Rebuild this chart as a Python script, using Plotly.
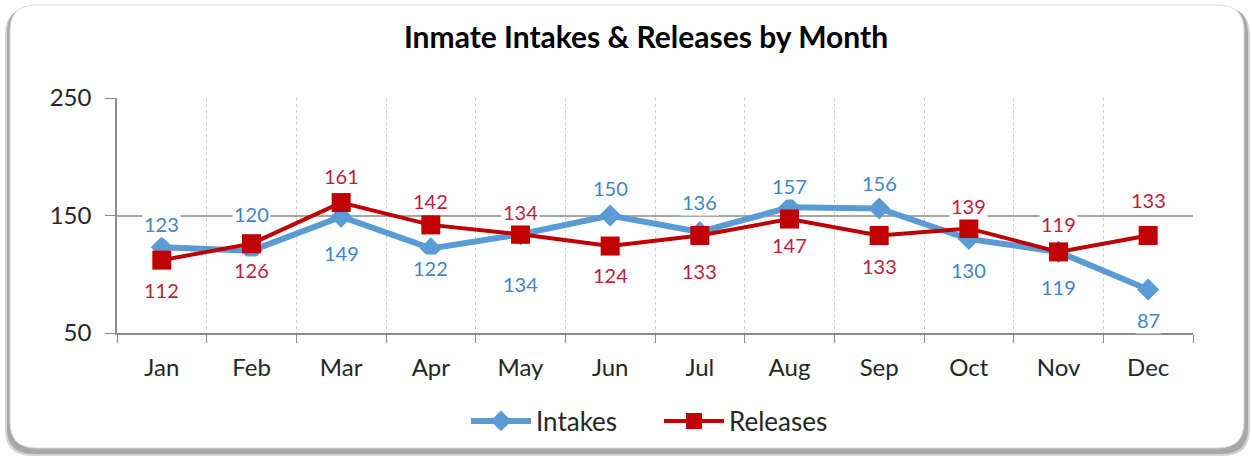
import plotly.graph_objects as go

months = ["Jan", "Feb", "Mar", "Apr", "May", "Jun", "Jul", "Aug", "Sep", "Oct", "Nov", "Dec"]
intakes = [123, 120, 149, 122, 134, 150, 136, 157, 156, 130, 119, 87]
releases = [112, 126, 161, 142, 134, 124, 133, 147, 133, 139, 119, 133]

# vertical label offsets in pixels (negative = above the marker)
intake_label_dy = [-23, -37, 36, 20, 50, -28, -30, -21, -25, 31, 35, 30]
release_label_dy = [30, 26, -27, -24, -22, 29, 36, 26, 31, -22, -28, -35]

BLUE = "#5B9BD5"
RED = "#C00000"
BLUE_TXT = "#3F86C8"
RED_TXT = "#BE1E3C"
FONT = "Lato, Open Sans, sans-serif"

W, H = 1252, 457
L, R, T, B = 117, 59, 98, 124
PW, PH = W - L - R, H - T - B


def px(x):
    return (x - L) / PW


def py(y):
    return (H - B - y) / PH


def rounded(x0, y0, x1, y1, r):
    # rounded rectangle in pixel coordinates, returned as a paper-space path
    pts = [
        f"M {px(x0 + r)},{py(y0)}",
        f"L {px(x1 - r)},{py(y0)}",
        f"Q {px(x1)},{py(y0)} {px(x1)},{py(y0 + r)}",
        f"L {px(x1)},{py(y1 - r)}",
        f"Q {px(x1)},{py(y1)} {px(x1 - r)},{py(y1)}",
        f"L {px(x0 + r)},{py(y1)}",
        f"Q {px(x0)},{py(y1)} {px(x0)},{py(y1 - r)}",
        f"L {px(x0)},{py(y0 + r)}",
        f"Q {px(x0)},{py(y0)} {px(x0 + r)},{py(y0)}",
        "Z",
    ]
    return " ".join(pts)


fig = go.Figure()

fig.add_trace(go.Scatter(
    x=months, y=intakes, name="Intakes", mode="lines+markers",
    line=dict(color=BLUE, width=6),
    marker=dict(symbol="diamond", size=17, color=BLUE),
))
fig.add_trace(go.Scatter(
    x=months, y=releases, name="Releases", mode="lines+markers",
    line=dict(color=RED, width=4),
    marker=dict(symbol="square", size=19, color=RED),
))

annotations = []
for m, v, dy in zip(months, intakes, intake_label_dy):
    annotations.append(dict(
        x=m, y=v, xref="x", yref="y", text=str(v), showarrow=False,
        yshift=-dy, font=dict(family=FONT, size=20, color=BLUE_TXT),
        bgcolor="white", borderpad=1,
    ))
for m, v, dy in zip(months, releases, release_label_dy):
    annotations.append(dict(
        x=m, y=v, xref="x", yref="y", text=str(v), showarrow=False,
        yshift=-dy, font=dict(family=FONT, size=20, color=RED_TXT),
        bgcolor="white", borderpad=1,
    ))

shapes = [
    # frame shadow, two soft layers
    dict(type="path", xref="paper", yref="paper", layer="below",
         path=rounded(5, 8, 1250, 456, 27), fillcolor="#d4d4d4",
         line=dict(width=0)),
    dict(type="path", xref="paper", yref="paper", layer="below",
         path=rounded(7, 7, 1248, 454, 26), fillcolor="#a8a8a8",
         line=dict(width=0)),
    # frame
    dict(type="path", xref="paper", yref="paper", layer="below",
         path=rounded(10, 5, 1244, 448, 26), fillcolor="white",
         line=dict(color="#dcdcdc", width=1)),
]

fig.update_layout(
    width=W, height=H,
    margin=dict(l=L, r=R, t=T, b=B),
    paper_bgcolor="white", plot_bgcolor="rgba(0,0,0,0)",
    font=dict(family=FONT, color="#262626"),
    title=dict(text="<b>Inmate Intakes &amp; Releases by Month</b>",
               x=646 / W, xanchor="center", xref="container",
               y=1 - 37 / H, yanchor="middle",
               font=dict(family=FONT, size=30, color="#000000")),
    showlegend=True,
    legend=dict(orientation="h", x=px(466), xanchor="left",
                y=py(421), yanchor="middle",
                font=dict(family=FONT, size=26, color="#262626"),
                itemwidth=60, entrywidth=118, entrywidthmode="pixels",
                bgcolor="rgba(0,0,0,0)"),
    shapes=shapes,
    annotations=annotations,
)

fig.update_xaxes(
    type="category", range=[-0.5, 11.5], tickson="boundaries",
    ticks="outside", ticklen=8, tickcolor="#8c8c8c", ticklabelstandoff=12,
    showline=True, linecolor="#8c8c8c", linewidth=1.5,
    showgrid=True, gridcolor="#d0d0d0", griddash="dot", gridwidth=1,
    tickfont=dict(family=FONT, size=24, color="#262626"),
    zeroline=False,
)
fig.update_yaxes(
    range=[50, 250], tickvals=[50, 150, 250], ticks="outside", ticklen=10,
    tickcolor="#8c8c8c", ticklabelstandoff=9,
    showline=True, linecolor="#8c8c8c", linewidth=1.5,
    showgrid=True, gridcolor="#a6a6a6", gridwidth=1.5,
    tickfont=dict(family=FONT, size=24, color="#262626"),
    zeroline=False,
)

fig.write_html("out.html")
